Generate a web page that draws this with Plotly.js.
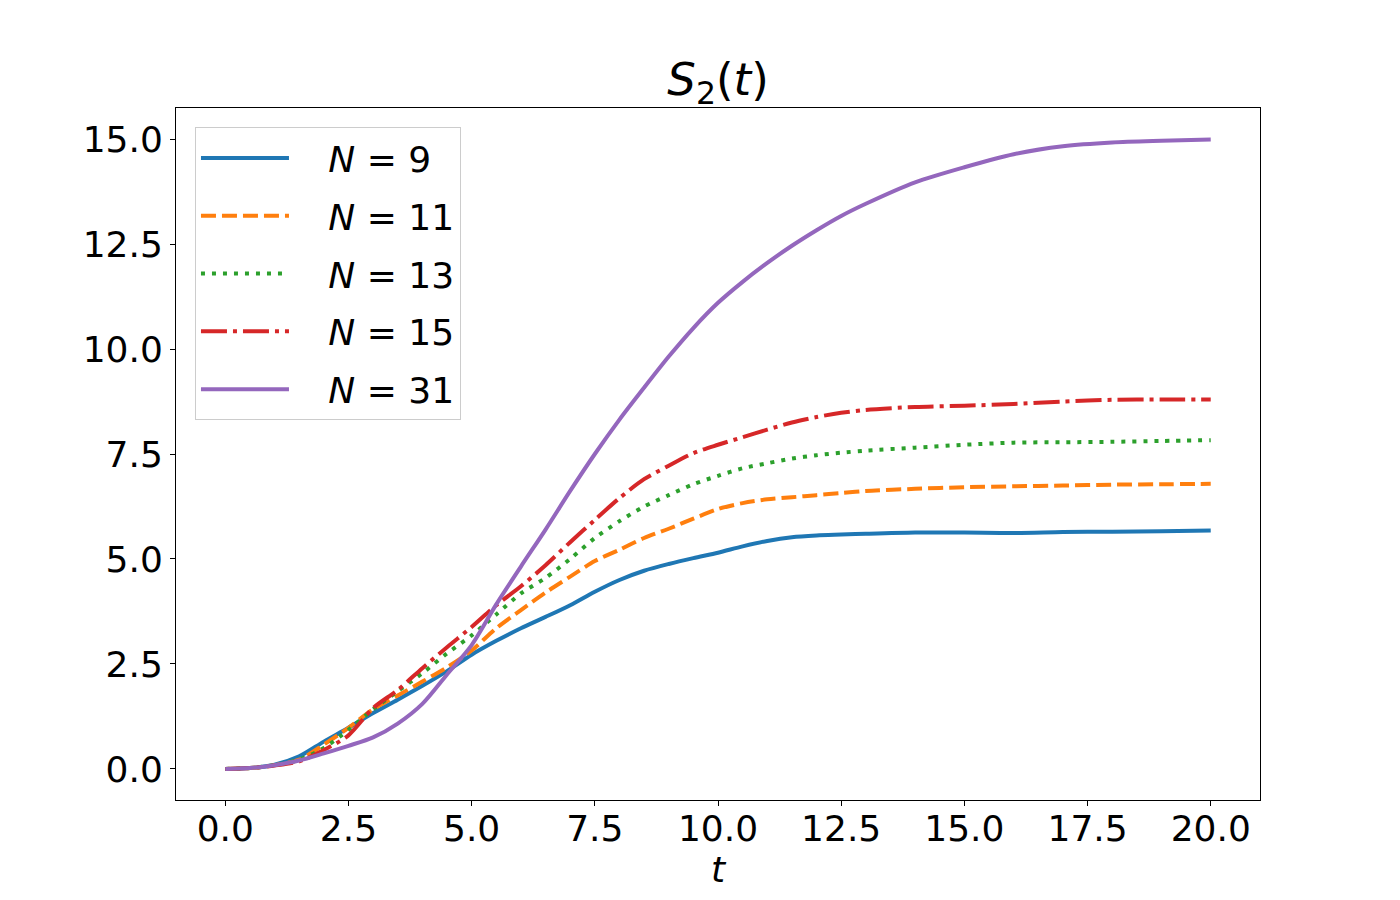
<!DOCTYPE html>
<html>
<head>
<meta charset="utf-8">
<script src="https://cdn.plot.ly/plotly-3.0.1.min.js"></script>
<style>
  body { margin: 0; background: #fff; }
  #chart { width: 1400px; height: 900px; }
</style>
</head>
<body>
<div id="chart"></div>
<script>
// time grid
const t = [0, 0.5, 1, 1.5, 2, 2.5, 3, 3.5, 4, 4.5, 5, 5.5, 6, 6.5, 7, 7.5, 8, 8.5, 9, 9.5, 10, 10.5, 11, 11.5, 12, 12.5, 13, 14, 15, 16, 17, 18, 19, 20];

// S2(t) per system size
const s2N9 = [0, 0.02, 0.10, 0.30, 0.65, 0.98, 1.33, 1.65, 1.98, 2.33, 2.72, 3.05, 3.35, 3.62, 3.90, 4.22, 4.50, 4.72, 4.88, 5.02, 5.15, 5.30, 5.43, 5.52, 5.56, 5.58, 5.60, 5.63, 5.63, 5.62, 5.64, 5.65, 5.66, 5.68];
const s2N11 = [0, 0.02, 0.09, 0.22, 0.58, 0.98, 1.42, 1.75, 2.08, 2.42, 2.82, 3.35, 3.78, 4.20, 4.58, 4.95, 5.22, 5.50, 5.72, 5.96, 6.19, 6.33, 6.42, 6.47, 6.52, 6.57, 6.62, 6.67, 6.71, 6.73, 6.75, 6.77, 6.78, 6.79];
const s2N13 = [0, 0.02, 0.09, 0.22, 0.50, 0.93, 1.42, 1.85, 2.28, 2.75, 3.18, 3.68, 4.18, 4.55, 5.00, 5.50, 5.90, 6.25, 6.52, 6.78, 6.98, 7.16, 7.28, 7.39, 7.47, 7.53, 7.58, 7.65, 7.72, 7.77, 7.78, 7.79, 7.81, 7.83];
const s2N15 = [0, 0.02, 0.08, 0.18, 0.45, 0.80, 1.45, 1.88, 2.40, 2.90, 3.38, 3.90, 4.35, 4.85, 5.40, 5.93, 6.45, 6.90, 7.22, 7.52, 7.72, 7.90, 8.08, 8.25, 8.38, 8.48, 8.55, 8.62, 8.65, 8.69, 8.75, 8.79, 8.80, 8.80];
const s2N31 = [0, 0.02, 0.09, 0.20, 0.37, 0.55, 0.75, 1.08, 1.55, 2.25, 2.95, 3.92, 4.82, 5.70, 6.62, 7.50, 8.32, 9.08, 9.82, 10.50, 11.10, 11.60, 12.05, 12.46, 12.83, 13.17, 13.46, 13.97, 14.33, 14.64, 14.83, 14.92, 14.96, 14.99];

const seriesNames = ["<i>N</i> = 9", "<i>N</i> = 11", "<i>N</i> = 13", "<i>N</i> = 15", "<i>N</i> = 31"];

const font = "DejaVu Sans, sans-serif";

function makeTrace(y, name, color, dash) {
  return {
    x: t,
    y: y,
    // leading spaces push the label away from the line sample, as in the reference
    name: "&nbsp;&nbsp;&nbsp;" + name,
    legendgroup: name, // one group per trace so tracegroupgap spaces the rows
    type: "scatter",
    mode: "lines",
    line: { color: color, width: 4, dash: dash, shape: "spline", smoothing: 0.8 },
  };
}

const traces = [
  makeTrace(s2N9, seriesNames[0], "#1f77b4", "solid"),
  makeTrace(s2N11, seriesNames[1], "#ff7f0e", "15px,6px"),
  makeTrace(s2N13, seriesNames[2], "#2ca02c", "4px,7px"),
  makeTrace(s2N15, seriesNames[3], "#d62728", "26px,6px,4px,6px"),
  makeTrace(s2N31, seriesNames[4], "#9467bd", "solid"),
];

const axisCommon = {
  showgrid: false,
  zeroline: false,
  showline: true,
  mirror: true,
  linecolor: "#000",
  linewidth: 1,
  ticks: "outside",
  ticklen: 5,
  tickwidth: 1,
  tickcolor: "#000",
  tickformat: ".1f",
  tick0: 0,
  dtick: 2.5,
  tickfont: { family: font, size: 36, color: "#000" },
};

const layout = {
  width: 1400,
  height: 900,
  paper_bgcolor: "#fff",
  plot_bgcolor: "#fff",
  margin: { l: 176, r: 140, t: 108, b: 100 },
  title: {
    text: "<i>S</i><sub>2</sub>(<i>t</i>)",
    font: { family: font, size: 45, color: "#000" },
    x: 0.5,
    xref: "paper",
    xanchor: "center",
    y: 0.912,
    yanchor: "middle",
  },
  xaxis: Object.assign({}, axisCommon, {
    range: [-1, 21],
    ticklabelstandoff: -8,
    title: { text: "<i>t</i>", font: { family: font, size: 36, color: "#000" }, standoff: 2 },
  }),
  yaxis: Object.assign({}, axisCommon, {
    range: [-0.74, 15.74],
  }),
  legend: {
    x: 0.0175,
    y: 0.9725,
    xanchor: "left",
    yanchor: "top",
    bgcolor: "#fff",
    bordercolor: "#cccccc",
    borderwidth: 1,
    traceorder: "grouped",
    tracegroupgap: 8,
    itemwidth: 88,
    font: { family: font, size: 36, color: "#000" },
  },
  showlegend: true,
};

Plotly.newPlot("chart", traces, layout, { displayModeBar: false });
</script>
</body>
</html>
